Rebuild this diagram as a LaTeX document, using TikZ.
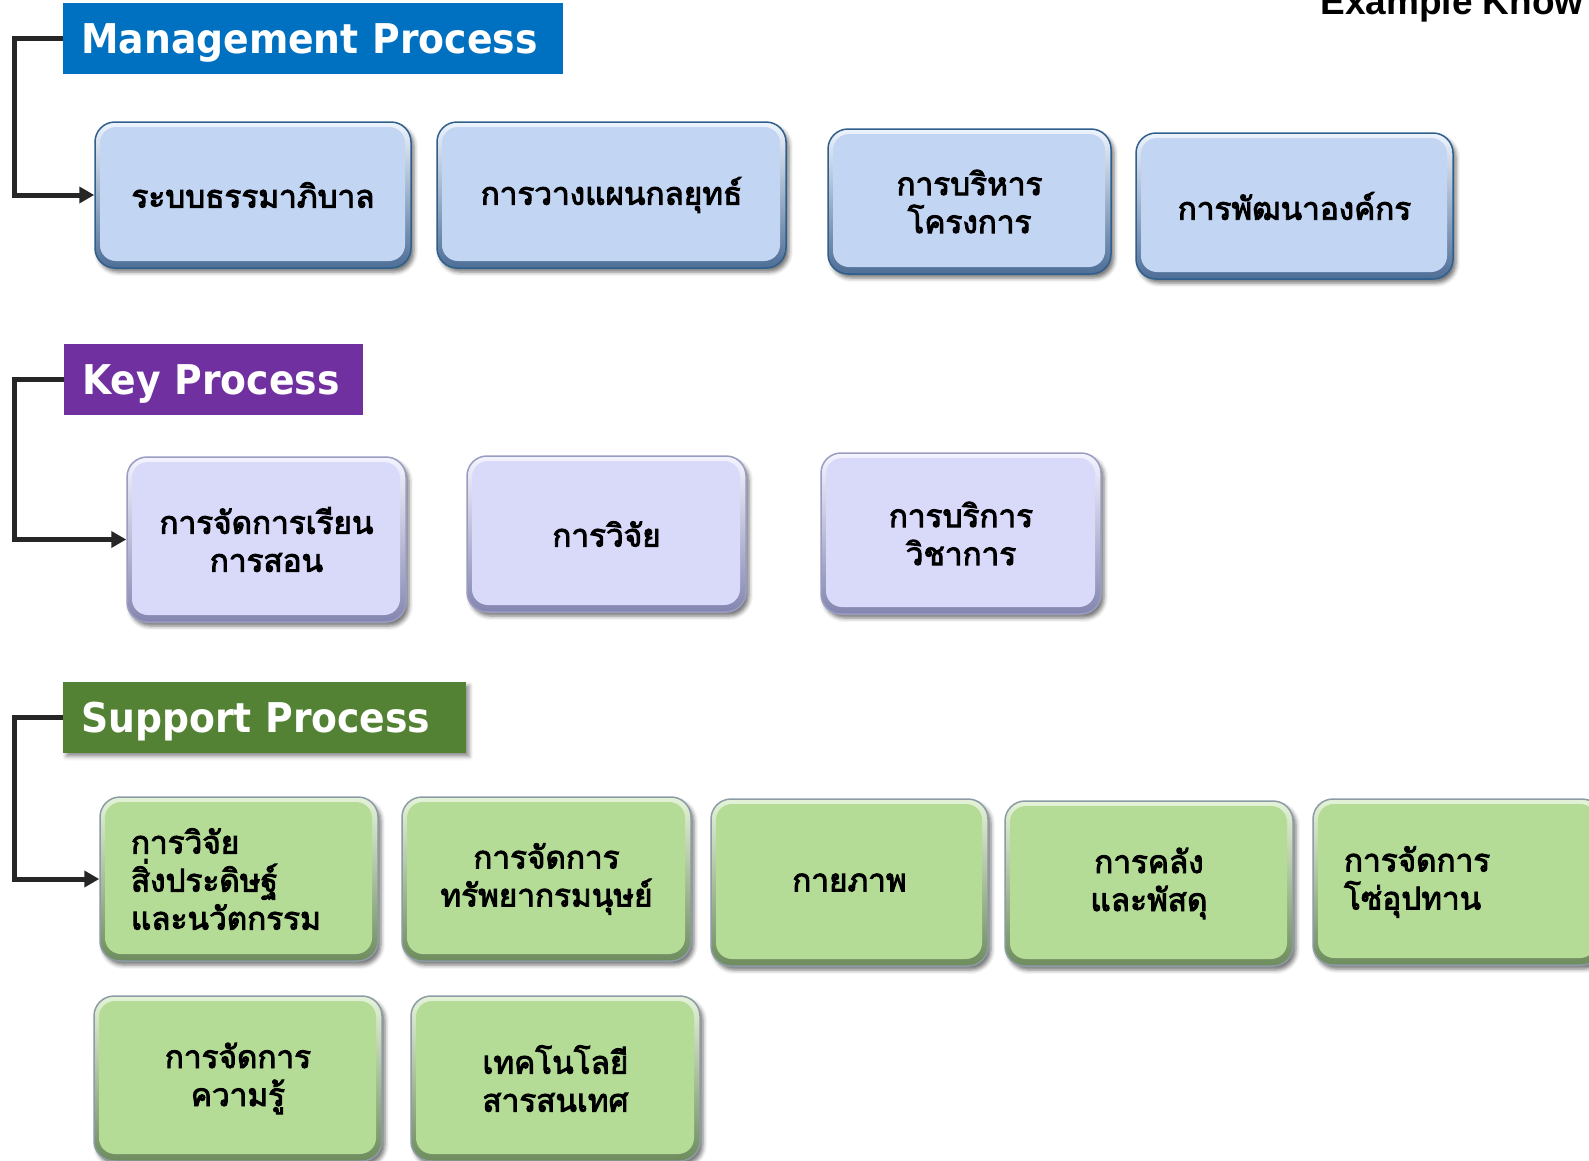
\documentclass[tikz,border=0pt]{standalone}
\usepackage{fontspec}
\setmainfont{DejaVu Sans}
\newfontfamily\thai[Script=Thai, FakeBold=3]{Loma}
\newfontfamily\headfont[FakeStretch=0.92]{DejaVu Sans}
\newfontfamily\tagfont{Liberation Sans}
\usetikzlibrary{arrows.meta,shadows.blur}

% title bars
\definecolor{mhead}{HTML}{0070C0}
\definecolor{khead}{HTML}{7030A0}
\definecolor{shead}{HTML}{548235}
% management boxes
\definecolor{mfill}{HTML}{C2D5F3}
\definecolor{mtop}{HTML}{EEF4FD}
\definecolor{mbot}{HTML}{4E6E96}
\definecolor{medge}{HTML}{2F5F8D}
% key boxes
\definecolor{kfill}{HTML}{D9DAFA}
\definecolor{ktop}{HTML}{F4F4FF}
\definecolor{kbot}{HTML}{8486B0}
\definecolor{kedge}{HTML}{9A9CC2}
% support boxes
\definecolor{gfill}{HTML}{B4DC97}
\definecolor{gtop}{HTML}{E4F3D8}
\definecolor{gbot}{HTML}{6E8C5E}
\definecolor{gedge}{HTML}{8C9BA6}
\definecolor{linkcol}{HTML}{262626}

\tikzset{
  size/.style 2 args={minimum width=#1pt, minimum height=#2pt},
  head/.style={fill=#1, text=white, anchor=west, minimum height=71pt,
    inner xsep=18pt, inner ysep=0pt, align=left,
    text height=30pt, text depth=0pt,
    font=\headfont\bfseries\fontsize{41}{44}\selectfont},
  proc/.style n args={4}{rounded corners=20pt, line width=1.5pt,
    draw=#4, top color=#2, bottom color=#3, inner sep=0pt, align=center,
    font=\thai\fontsize{31.5}{38}\selectfont,
    blur shadow={shadow xshift=3pt, shadow yshift=-4pt,
      shadow blur radius=4pt, shadow opacity=55},
    path picture={\fill[#1, rounded corners=16pt]
      ([shift={(5pt,7pt)}]path picture bounding box.south west) rectangle
      ([shift={(-6pt,-5pt)}]path picture bounding box.north east);}},
  mproc/.style={proc={mfill}{mtop}{mbot}{medge}},
  kproc/.style={proc={kfill}{ktop}{kbot}{kedge}},
  gproc/.style={proc={gfill}{gtop}{gbot}{gedge}},
  link/.style={draw=linkcol, line width=5pt,
    -{Triangle[length=15pt,width=16pt]}}
}

\begin{document}
\begin{tikzpicture}[x=1pt, y=-1pt]
\useasboundingbox (0,0) rectangle (1589,1160);

% heading in the upper right corner, running off the page edge
\node[anchor=base west,
  font=\tagfont\bfseries\fontsize{37}{40}\selectfont] (tag) at (1317,14) {Example Know};

% ---------- Management Process ----------
\node[head=mhead, text width=464pt] (mt) at (63,38.5) {Management Process};
\node[mproc, size={316}{146}] (m1) at (253,195) {ระบบธรรมาภิบาล};
\node[mproc, size={349}{146}] (m2) at (611.5,195) {การวางแผนกลยุทธ์};
\node[mproc, size={283}{145}] (m3) at (969.5,201.5) {การบริหาร\\โครงการ};
\node[mproc, size={317}{146}] (m4) at (1294.5,206) {การพัฒนาองค์กร};
\draw[link] (mt.west) -- ++(-48.5,0) |- (m1.west);

% ---------- Key Process ----------
\node[head=khead, text width=263pt] (kt) at (64,379) {Key Process};
\node[kproc, size={279}{165}] (k1) at (266.5,539.5) {การจัดการเรียน\\การสอน};
\node[kproc, size={279}{156}] (k2) at (606.5,534) {การวิจัย};
\node[kproc, size={280}{161}] (k3) at (961,533.5) {การบริการ\\วิชาการ};
\draw[link] (kt.west) -- ++(-49.5,0) |- (k1.west);

% ---------- Support Process ----------
\node[head=shead, text width=367pt,
  blur shadow={shadow xshift=3pt, shadow yshift=-4pt,
    shadow blur radius=4pt, shadow opacity=45}] (st) at (63,717) {Support Process};
\node[gproc, size={278}{164}, align=left, text width=216pt] (s1) at (239,879)
  {การวิจัย\\สิ่งประดิษฐ์\\และนวัตกรรม};
\node[gproc, size={289}{164}] (s2) at (546.5,879) {การจัดการ\\ทรัพยากรมนุษย์};
\node[gproc, size={277}{167}] (s3) at (849.5,882.5) {กายภาพ};
\node[gproc, size={288}{165}] (s4) at (1149,883.5) {การคลัง\\และพัสดุ};
\node[gproc, size={289}{166}, align=left, text width=227pt] (s5) at (1457.5,882)
  {การจัดการ\\โซ่อุปทาน};
\node[gproc, size={288}{165}] (s6) at (238,1078.5) {การจัดการ\\ความรู้};
\node[gproc, size={289}{165}] (s7) at (555.5,1078.5) {เทคโนโลยี\\สารสนเทศ};
\draw[link] (st.west) -- ++(-48.5,0) |- (s1.west);

\end{tikzpicture}
\end{document}
